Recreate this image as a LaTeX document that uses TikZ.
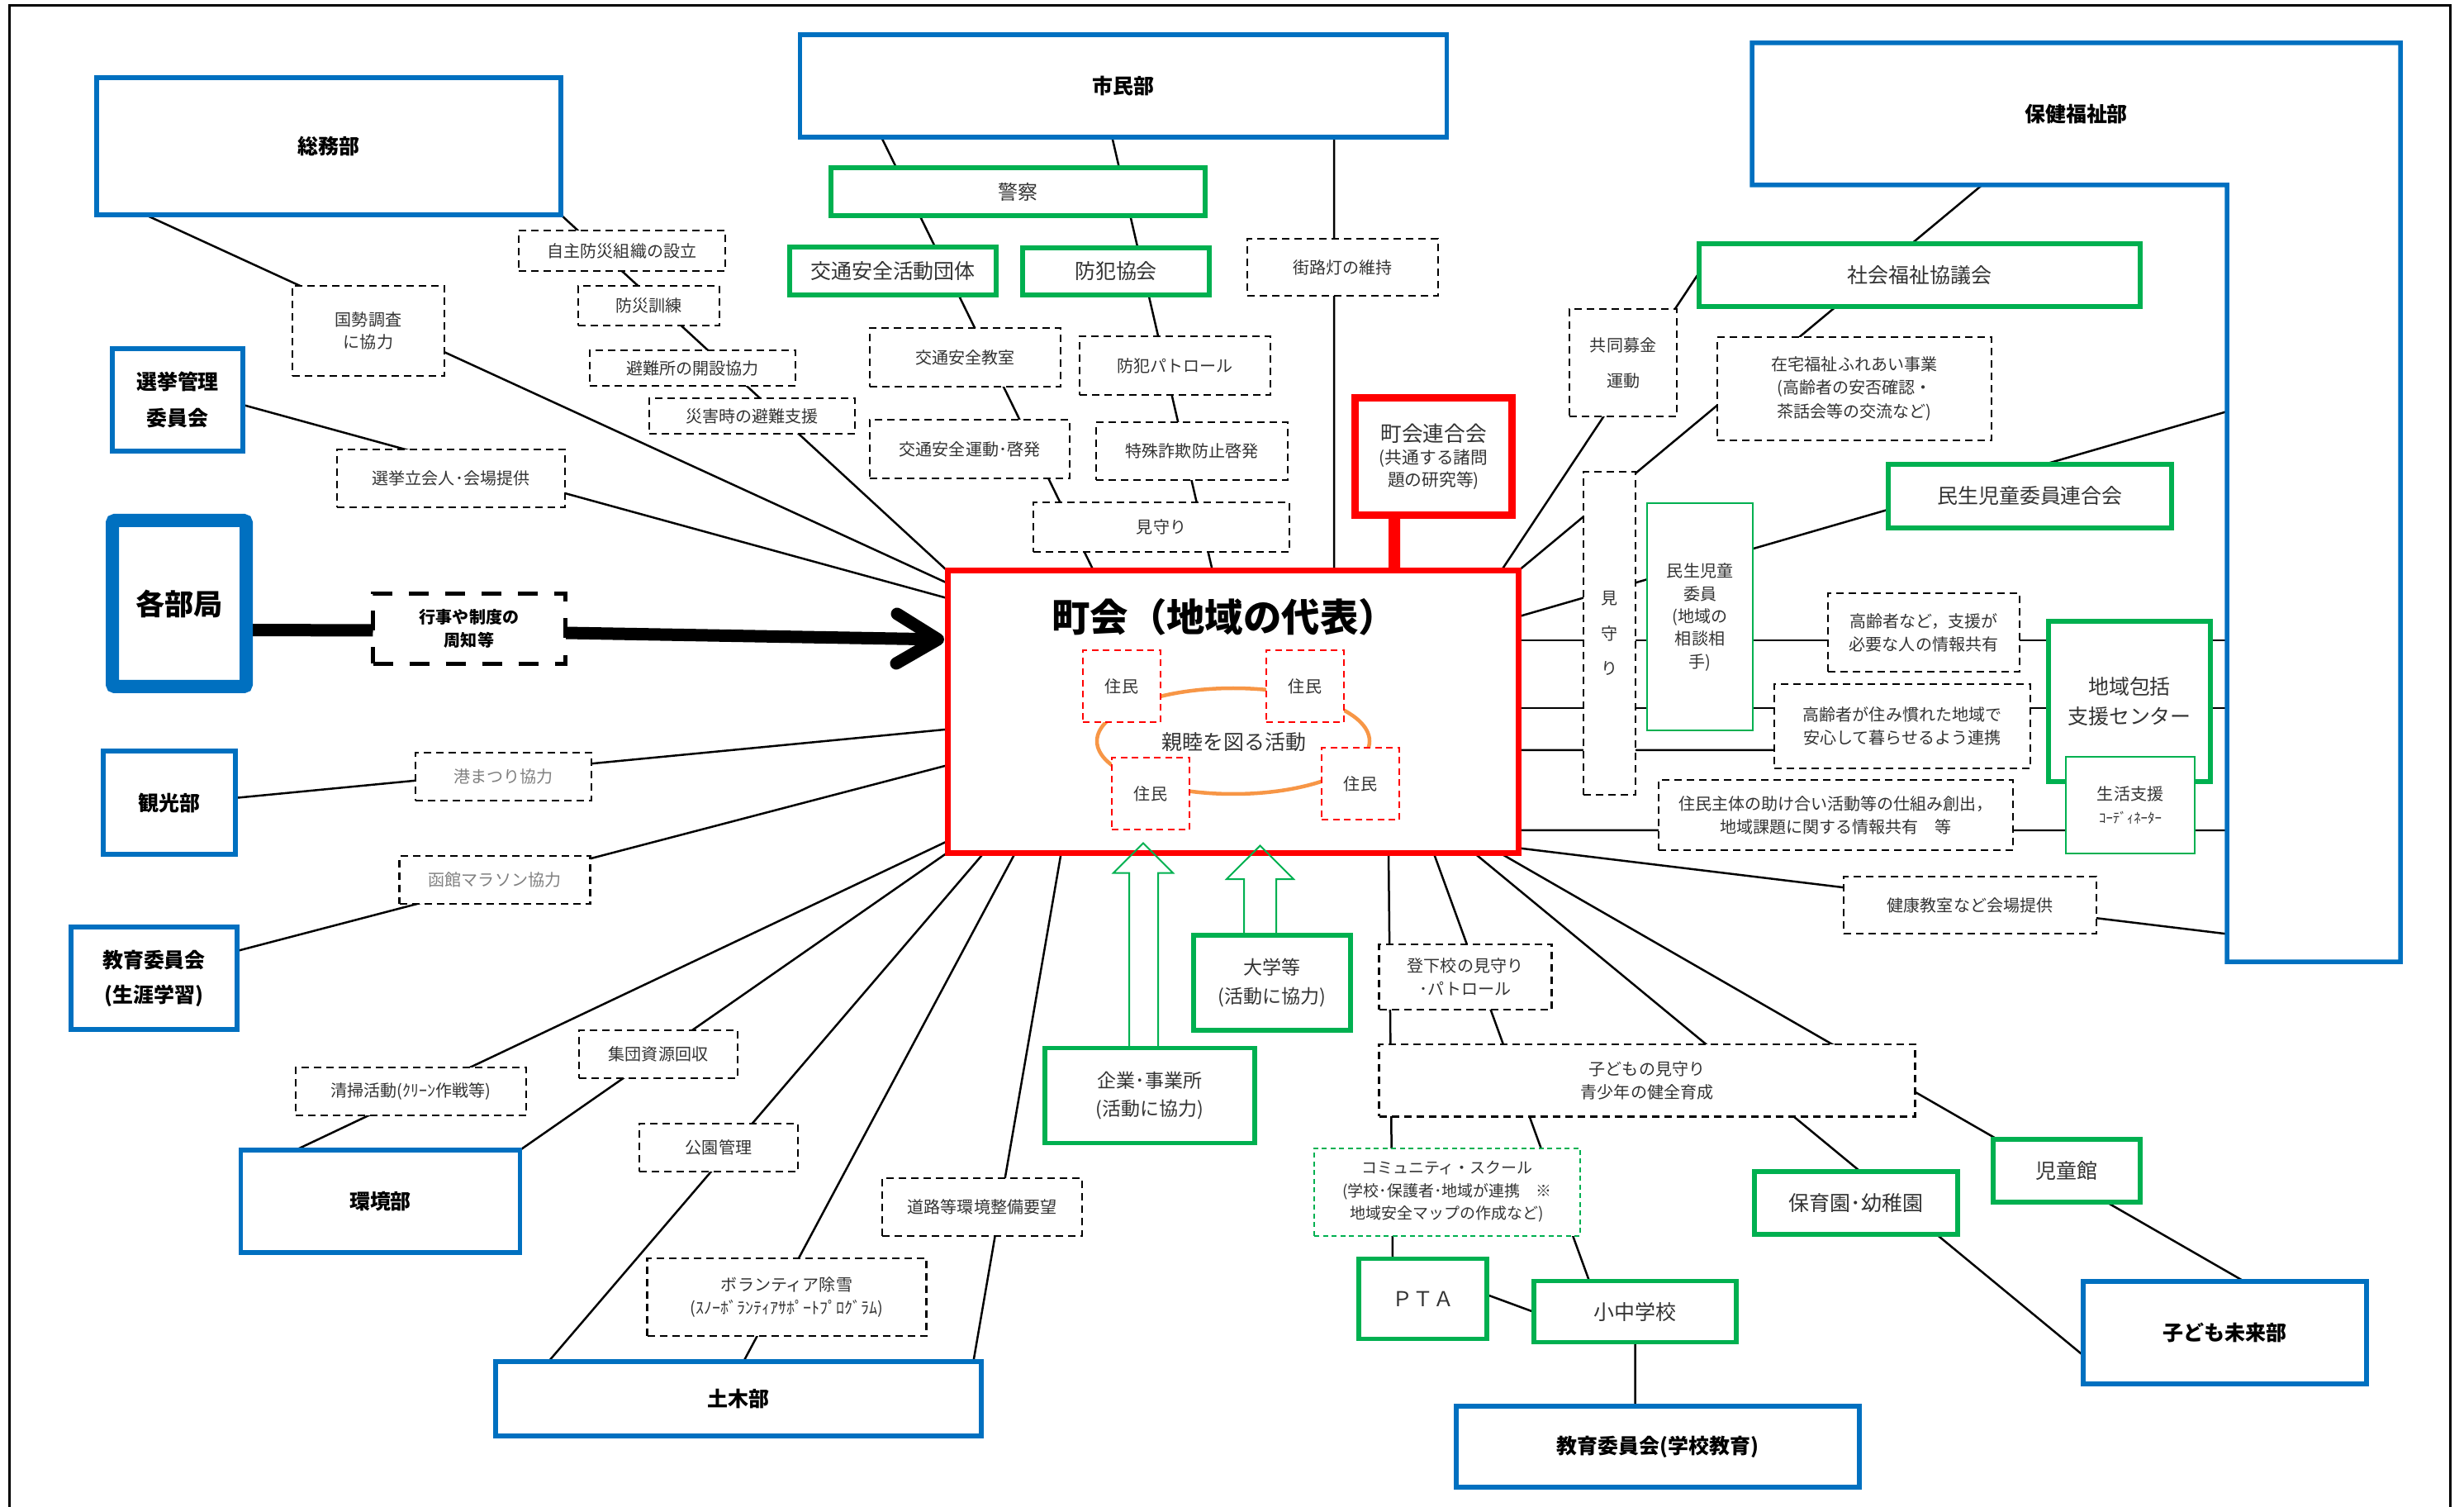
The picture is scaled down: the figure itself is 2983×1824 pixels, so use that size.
\documentclass[tikz,border=0pt]{standalone}
\usepackage{fontspec}
\newfontfamily\jp{Noto Sans CJK JP}
\usetikzlibrary{arrows.meta}
\pgfdeclarelayer{background}
\pgfsetlayers{background,main}
\definecolor{dblue}{HTML}{0070C0}
\definecolor{dgreen}{HTML}{00B050}
\definecolor{dred}{HTML}{FF0000}
\definecolor{dorange}{HTML}{F79646}
\definecolor{txt}{HTML}{333333}
\newcommand\fz[2]{\fontsize{#1}{#2}\selectfont}
\tikzset{
  wh/.style 2 args={minimum width=#1*0.1mm,minimum height=#2*0.1mm},
  every node/.style={inner sep=0pt,outer sep=0pt,align=center},
  dept/.style={draw=dblue,line width=0.55mm,fill=white,text=black,font=\jp\bfseries\fz{7.1pt}{12.5pt}},
  gbox/.style={draw=dgreen,line width=0.55mm,fill=white,text=txt,font=\jp\fz{7.1pt}{10pt}},
  gthin/.style={draw=dgreen,line width=0.2mm,fill=white,text=txt,font=\jp\fz{5.7pt}{7.8pt}},
  dbox/.style={draw=black,line width=0.25mm,dash pattern=on 0.9mm off 0.6mm,fill=white,text=txt,font=\jp\fz{5.7pt}{7.9pt}},
  rbox/.style={draw=dred,line width=0.2mm,dash pattern=on 0.8mm off 0.55mm,fill=white,text=txt,font=\jp\fz{5.7pt}{7pt}},
  conn/.style={line width=0.25mm,draw=black},
  blockarrow/.style={draw=dgreen,line width=0.2mm},
}
\begin{document}
\begin{tikzpicture}[x=0.1mm,y=-0.1mm]
\useasboundingbox (0,0) rectangle (2983,1824);
\draw[line width=0.3mm] (11,1830) -- (11,7) -- (2966,7) -- (2966,1830);

% departments
\node[dept,wh={562}{166}] (somu) at (398,177) {総務部};
\node[dept,wh={783}{124}] (shimin) at (1360,104) {市民部};
\node[dept,wh={158}{124}] (senkyo) at (215,484) {選挙管理\\委員会};
\node[dept,wh={162}{201},line width=1.6mm,rounded corners=0.3mm,font=\jp\bfseries\fz{10pt}{12pt}] (kakubu) at (217,730.5) {各部局};
\node[dept,wh={160}{125}] (kanko) at (205,971.5) {観光部};
\node[dept,wh={201}{124},font=\jp\bfseries\fz{7.1pt}{11.9pt}] (kyoikuA) at (186.5,1184) {教育委員会\\(生涯学習)};
\node[dept,wh={338}{124}] (kankyo) at (460.5,1454) {環境部};
\node[dept,wh={588}{90}] (doboku) at (894,1693) {土木部};
\node[dept,wh={343}{124}] (kodomo) at (2693.5,1613) {子ども未来部};
\node[dept,wh={488}{98}] (kyoikuB) at (2007,1751) {教育委員会(学校教育)};
\node[wh={785}{172},font=\jp\bfseries\fz{7.1pt}{9pt}] (hokentop) at (2513.5,138) {保健福祉部};
\node[wh={210}{940}] (hokenbar) at (2801,694) {};
\draw[dblue,line width=0.55mm] (hokentop.north west) -- (hokentop.north east) -- (hokenbar.south east) -- (hokenbar.south west) -- (hokenbar.north west) -- (hokentop.south west) -- cycle;

% 町会
\node[draw=dred,line width=0.7mm,fill=white,wh={691}{341}] (chokai) at (1492.5,861.5) {};
\draw[dorange,line width=0.45mm] (1493,897) ellipse [x radius=16.5mm,y radius=6.4mm];
\node[font=\jp\bfseries\fz{13.2pt}{15pt}] (title) at (1482,747) {町会（地域の代表）};
\node[font=\jp\fz{7.1pt}{8pt},text=txt] (shinboku) at (1494,898) {親睦を図る活動};
\node[rbox,wh={94}{87}] (j1) at (1358,831) {住民};
\node[rbox,wh={94}{87}] (j2) at (1580,831) {住民};
\node[rbox,wh={94}{87}] (j3) at (1393,960.5) {住民};
\node[rbox,wh={94}{87}] (j4) at (1647,948.5) {住民};
\node[draw=dred,line width=0.9mm,fill=white,wh={190}{142},text=txt,font=\jp\fz{5.9pt}{7.7pt}] (rengo) at (1735.5,552.5) {{\fz{7.3pt}{9pt}町会連合会}\\(共通する諸問\\題の研究等)};

% green boxes
\node[gbox,wh={453}{58},font=\jp\fz{6.8pt}{8pt}] (keisatsu) at (1232.5,232) {警察};
\node[gbox,wh={250}{58}] (kotsudan) at (1081,328) {交通安全活動団体};
\node[gbox,wh={226}{57}] (bohan) at (1351,328.5) {防犯協会};
\node[gbox,wh={534}{76}] (shakyo) at (2324,333) {社会福祉協議会};
\node[gbox,wh={343}{77}] (minren) at (2457.5,600.5) {民生児童委員連合会};
\node[gbox,wh={196}{194}] (houkatsu) at (2578,849) {地域包括\\支援センター};
\node[gbox,wh={190}{115},font=\jp\fz{6.54pt}{9.7pt}] (daigaku) at (1540,1189.5) {大学等\\(活動に協力)};
\node[gbox,wh={254}{115},font=\jp\fz{6.54pt}{9.9pt}] (kigyo) at (1392,1326) {企業･事業所\\(活動に協力)};
\node[gbox,wh={155}{97}] (pta) at (1722.5,1572) {ＰＴＡ};
\node[gbox,wh={245}{74}] (shochu) at (1979.5,1587.5) {小中学校};
\node[gbox,wh={246}{76}] (hoiku) at (2247,1456) {保育園･幼稚園};
\node[gbox,wh={178}{76}] (jidokan) at (2502,1417) {児童館};
\node[gthin,wh={128}{275}] (minsei) at (2058,747) {民生児童\\委員\\(地域の\\相談相\\手)};
\node[gthin,wh={156}{117}] (seikatsu) at (2579,974.5) {生活支援\\{\fz{4.8pt}{7.8pt}ｺｰﾃﾞｨﾈｰﾀｰ}};
\node[gthin,dash pattern=on 0.6mm off 0.45mm,wh={322}{106},font=\jp\fz{5.4pt}{7.8pt}] (community) at (1752,1442.5) {コミュニティ・スクール\\(学校･保護者･地域が連携　※\\地域安全マップの作成など)};

% dashed boxes
\node[dbox,wh={250}{49}] (jishu) at (753,303.5) {自主防災組織の設立};
\node[dbox,wh={171}{48}] (bosai) at (785.5,370) {防災訓練};
\node[dbox,wh={249}{43}] (hinan) at (838.5,445.5) {避難所の開設協力};
\node[dbox,wh={249}{43}] (saigai) at (910.5,503.5) {災害時の避難支援};
\node[dbox,wh={184}{109},font=\jp\fz{5.7pt}{7.5pt}] (kokusei) at (446,400.5) {国勢調査\\に協力};
\node[dbox,wh={276}{70}] (tachiai) at (546,579) {選挙立会人･会場提供};
\node[dbox,line width=0.55mm,dash pattern=on 2.4mm off 2mm,wh={233}{85},font=\jp\bfseries\fz{5.7pt}{8.2pt},text=black] (gyoji) at (568,761) {行事や制度の\\周知等};
\node[dbox,wh={213}{58},text=gray] (minato) at (609.5,940) {港まつり協力};
\node[dbox,wh={231}{58},text=gray] (marathon) at (599,1065) {函館マラソン協力};
\node[dbox,wh={279}{58}] (seiso) at (497.5,1321) {清掃活動(ｸﾘｰﾝ作戦等)};
\node[dbox,wh={192}{58}] (shudan) at (797,1276) {集団資源回収};
\node[dbox,wh={192}{58}] (koen) at (870,1389) {公園管理};
\node[dbox,wh={242}{70}] (doro) at (1189,1461) {道路等環境整備要望};
\node[dbox,wh={338}{94}] (josetsu) at (952.5,1570) {ボランティア除雪\\(ｽﾉｰﾎﾞﾗﾝﾃｨｱｻﾎﾟｰﾄﾌﾟﾛｸﾞﾗﾑ)};
\node[dbox,wh={231}{71}] (kyoshitsu) at (1168.5,432.5) {交通安全教室};
\node[dbox,wh={231}{71}] (patrol) at (1422.5,442.5) {防犯パトロール};
\node[dbox,wh={242}{71}] (undo) at (1174,543.5) {交通安全運動･啓発};
\node[dbox,wh={232}{70}] (sagi) at (1443,546) {特殊詐欺防止啓発};
\node[dbox,wh={310}{60}] (mimamori) at (1406,638) {見守り};
\node[dbox,wh={231}{69}] (gairo) at (1625.5,323.5) {街路灯の維持};
\node[dbox,wh={130}{130},font=\jp\fz{5.7pt}{12.2pt}] (bokin) at (1965,439) {共同募金\\運動};
\node[dbox,wh={332}{125},font=\jp\fz{5.7pt}{8.1pt}] (zaitaku) at (2245,470.5) {在宅福祉ふれあい事業\\(高齢者の安否確認・\\茶話会等の交流など)};
\node[dbox,wh={63}{391},font=\jp\fz{5.7pt}{12.1pt}] (mimamoriV) at (1948.5,766.5) {見\\守\\り};
\node[dbox,wh={232}{95}] (koreiA) at (2329,765.5) {高齢者など，支援が\\必要な人の情報共有};
\node[dbox,wh={310}{102}] (koreiB) at (2303,879) {高齢者が住み慣れた地域で\\安心して暮らせるよう連携};
\node[dbox,wh={429}{85}] (jumin) at (2222.5,986.5) {住民主体の助け合い活動等の仕組み創出，\\地域課題に関する情報共有　等};
\node[dbox,wh={306}{69}] (kenko) at (2385,1095.5) {健康教室など会場提供};
\node[dbox,wh={209}{79}] (togeko) at (1774,1182.5) {登下校の見守り\\･パトロール};
\node[dbox,wh={649}{87.5},font=\jp\fz{5.7pt}{8.1pt}] (mimamoriK) at (1994,1307.7) {子どもの見守り\\青少年の健全育成};

% green block arrows
\draw[blockarrow] ([xshift=-2.5mm]kigyo.north) -- ++(0,-212) -- ++(-19,0) -- ++(36,-36) -- ++(36,36) -- ++(-18,0) -- ++(0,212);
\draw[blockarrow] ([xshift=-3.4mm]daigaku.north) -- ++(0,-68) -- ++(-21,0) -- ++(40.5,-40.4) -- ++(40.5,40.4) -- ++(-21,0) -- ++(0,68);

% connectors
\begin{pgfonlayer}{background}
\draw[conn] ([shift={(-222,83)}]somu.center) -- ([shift={(-345.5,-155.7)}]chokai.center);
\draw[conn] (somu.south east) -- (chokai.north west);
\draw[conn] ([shift={(79,6)}]senkyo.center) -- ([shift={(-345.5,-137.4)}]chokai.center);
\draw[conn] ([shift={(80,-5.7)}]kanko.center) -- ([shift={(-345.5,21.2)}]chokai.center);
\draw[conn] ([shift={(100.5,-33)}]kyoikuA.center) -- ([shift={(-345.5,64.7)}]chokai.center);
\draw[conn] ([shift={(-102.7,-62)}]kankyo.center) -- ([shift={(-345.5,156.6)}]chokai.center);
\draw[conn] (kankyo.north east) -- (chokai.south west);
\draw[conn] ([shift={(-230,-45)}]doboku.center) -- ([shift={(-301.1,170.5)}]chokai.center);
\draw[conn] ([shift={(6.1,-45)}]doboku.center) -- ([shift={(-263.3,170.5)}]chokai.center);
\draw[conn] ([shift={(284.4,-45)}]doboku.center) -- ([shift={(-207.8,170.5)}]chokai.center);
\draw[conn] ([shift={(-293,62)}]shimin.center) -- ([shift={(-168.5,-170.5)}]chokai.center);
\draw[conn] ([shift={(-13.7,62)}]shimin.center) -- ([shift={(-24.6,-170.5)}]chokai.center);
\draw[conn] ([shift={(255,62)}]shimin.center) -- ([shift={(122.5,-170.5)}]chokai.center);
\draw[dred,line width=1.4mm] ([shift={(-47.5,71)}]rengo.center) -- ([shift={(195.5,-170.5)}]chokai.center);
\draw[conn] ([shift={(324.8,-170.5)}]chokai.center) -- ([shift={(-267,-3)}]shakyo.center);
\draw[conn] (chokai.north east) -- ([shift={(-114,86)}]hokentop.center);
\draw[conn] ([shift={(345.5,-115.1)}]chokai.center) -- ([shift={(-105,-195.9)}]hokenbar.center);
\draw[conn] ([shift={(345.5,-86.5)}]chokai.center) -- ([shift={(-105,81)}]hokenbar.center);
\draw[conn] ([shift={(345.5,-4.5)}]chokai.center) -- ([shift={(-105,163)}]hokenbar.center);
\draw[conn] ([shift={(345.5,46.5)}]chokai.center) -- ([shift={(-155,29)}]koreiB.center);
\draw[conn] ([shift={(345.5,143.5)}]chokai.center) -- ([shift={(-105,311)}]hokenbar.center);
\draw[conn] ([shift={(345.5,164.9)}]chokai.center) -- ([shift={(-105,436.4)}]hokenbar.center);
\draw[conn] ([shift={(188.5,170.5)}]chokai.center) -- ([shift={(-36.5,-48.5)}]pta.center);
\draw[conn] ([shift={(243,170.5)}]chokai.center) -- ([shift={(-55.5,-37)}]shochu.center);
\draw[conn] ([shift={(291.7,170.5)}]chokai.center) -- ([shift={(-171.5,27.5)}]kodomo.center);
\draw[conn] ([shift={(322.5,170.5)}]chokai.center) -- ([shift={(23.5,-62)}]kodomo.center);
\draw[conn] ([shift={(77.5,-5)}]pta.center) -- ([shift={(-122.5,0.5)}]shochu.center);
\draw[conn] ([shift={(0,37)}]shochu.center) -- ([shift={(-27.5,-49)}]kyoikuB.center);
\draw[line width=1.5mm] ([shift={(81,32)}]kakubu.center) -- ([shift={(-116.5,2)}]gyoji.center);
\draw[line width=1.5mm,-{Straight Barb[length=5mm,width=6mm,round]}] ([shift={(116.5,5)}]gyoji.center) -- ([shift={(-349.5,-87.5)}]chokai.center);
\end{pgfonlayer}
\end{tikzpicture}
\end{document}
